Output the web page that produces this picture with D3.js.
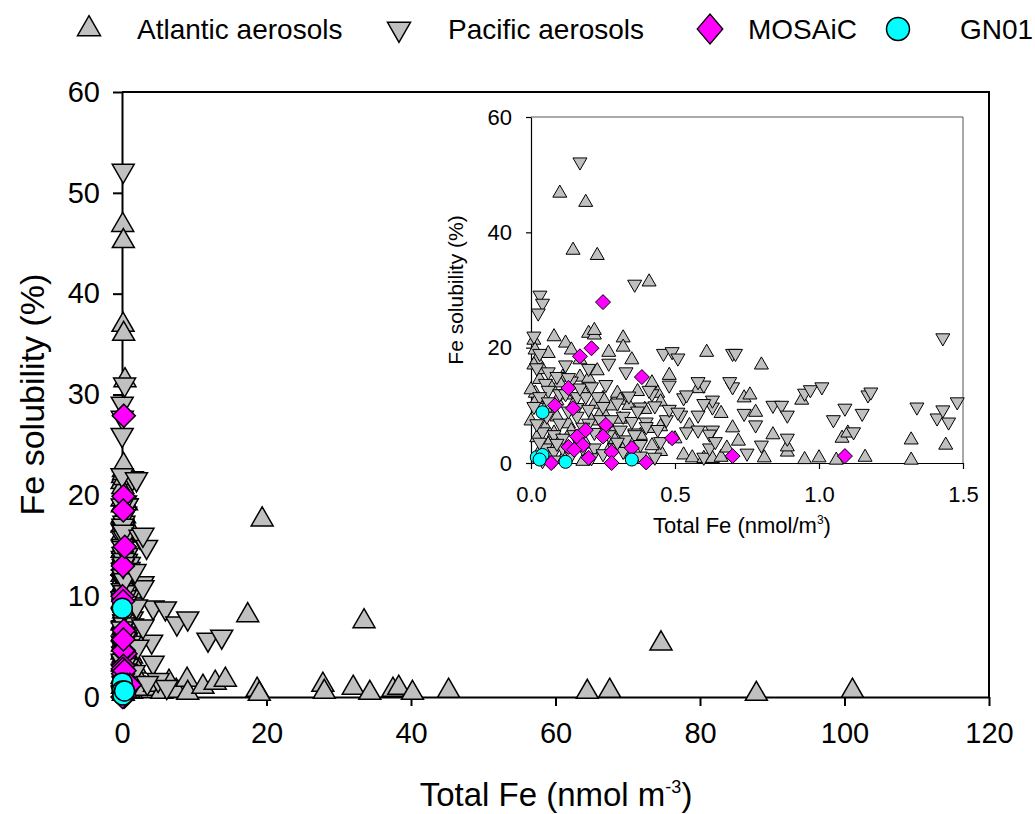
<!DOCTYPE html>
<html>
<head>
  <meta charset="utf-8">
  <script src="https://d3js.org/d3.v7.min.js"></script>
  <style>
    body { margin:0; background:#fff; }
    svg text { font-family: Arial, "Liberation Sans", sans-serif; fill:#000; }
  </style>
</head>
<body>
  <div class="chart"></div>
  <script>
    // [total Fe (nmol m-3), Fe solubility (%)]
    const atlantic = [
      [0.10,46.8],[0.19,45.2],[0.146,36.9],[0.23,36.0],[0.41,31.4],
      [0.01,21.3],[0.08,21.9],[0.12,20.8],[0.14,19.6],[0.20,22.5],[0.22,22.2],[0.32,21.7],[0.32,20.1],
      [0.35,17.9],[0.014,19.6],[0.02,17.9],[0.06,19.0],[0.01,17.0],[0.17,17.9],[0.11,14.9],[0.10,13.9],
      [0.30,12.1],[0.31,10.9],[0.42,13.9],[0.44,12.1],[0.45,10.6],[0.17,14.9],[0.20,14.7],[0.015,12.1],
      [0.02,11.0],[0.53,1.4],[0.56,0.9],[0.60,0.8],[0.63,0.8],[0.35,1.4],[0.17,4.1],[0.19,3.3],[0.28,5.7],
      [0.41,6.0],[0.45,6.3],[0.08,5.2],[0.02,4.4],[0.0,7.3],[0.13,6.8],[0.24,8.5],[0.31,7.6],[0.18,0.3],
      [0.395,9.3],[0.28,9.9],[0.61,19.2],[0.80,17.0],[0.74,11.3],[0.76,11.8],[0.78,8.8],[0.94,10.9],
      [0.84,4.9],[0.89,1.9],[0.81,0.9],[1.0,0.9],[1.06,0.5],[1.08,4.3],[1.10,5.2],[1.32,4.0],[1.44,3.1],
      [1.32,0.5],[0.66,1.0],[0.89,2.8],[0.68,2.6],[0.22,23.0],[0.0,12.7],[0.05,9.5],[0.09,8.0],[0.15,10.4],
      [0.25,11.2],[0.03,2.0],[0.07,1.0],[0.12,1.6],[0.27,2.2],[0.33,3.2],[0.45,2.0],[0.50,4.2],[0.55,6.5],
      [0.48,15.2],[0.58,12.9],[0.66,8.6],[0.70,6.1],[0.72,3.8],[0.95,0.6],[1.16,1.0],
      [0.03,14.5],[0.07,13.2],[0.12,11.8],[0.18,12.6],[0.22,10.2],[0.26,8.0],[0.34,10.0],[0.37,12.4],
      [0.05,6.2],[0.10,3.8],[0.14,5.6],[0.21,7.3],[0.29,4.1],[0.38,4.8],[0.42,3.0],[0.06,3.2],[0.09,10.8],
      [0.23,16.0],[0.27,19.2],[0.04,16.2],
      [1.8,3.0],[2.5,1.5],[3.2,0.8],[4.5,1.2],[5.5,0.5],[6.5,1.5],[7.5,0.6],[9.0,1.7],[9.1,0.4],
      [11.2,1.0],[12.9,1.4],[14.3,1.7],[18.7,0.7],[19.4,17.6],[17.4,8.1],[33.5,7.5],[74.6,5.3],
      [19.0,0.3],[27.8,1.2],[28.0,0.5],[32.0,0.9],[34.3,0.4],[37.5,0.7],[38.3,0.9],[40.2,0.4],
      [45.2,0.6],[64.4,0.5],[67.5,0.6],[87.8,0.3],[101.1,0.6]
    ];
    const pacific = [
      [0.17,52.2],[0.031,29.1],[0.04,27.7],[0.025,26.0],[0.36,31.0],[0.27,17.3],[0.46,19.0],[0.49,19.3],
      [0.51,18.2],[0.70,19.0],[0.48,13.5],[0.53,11.3],[0.60,13.5],[0.63,9.7],[0.70,13.2],[0.54,5.4],
      [0.58,5.7],[0.63,5.7],[0.58,8.3],[0.60,1.0],[0.52,8.3],[0.47,7.5],[0.42,12.0],[0.38,9.7],[0.36,5.2],
      [0.40,7.1],[1.43,21.7],[0.71,19.0],[0.63,10.9],[0.74,8.6],[0.78,6.6],[0.84,10.0],[0.87,10.0],
      [0.89,8.3],[0.95,12.1],[0.97,12.7],[1.01,13.2],[1.05,7.5],[1.09,9.5],[1.15,8.6],[1.17,11.8],
      [1.18,12.3],[1.12,5.4],[1.34,9.7],[1.41,7.8],[1.43,9.2],[1.45,7.1],[1.48,10.6],[0.75,1.7],[0.89,4.3],
      [0.80,3.1],[0.62,5.0],[0.58,14.1],[0.69,14.1],[0.54,11.8],[0.60,10.3],[0.05,13.8],[0.06,12.6],
      [0.03,11.5],[0.10,12.0],[0.12,12.0],[0.16,11.5],[0.19,11.5],[0.23,11.5],[0.25,9.8],[0.16,9.6],
      [0.20,9.3],[0.01,9.8],[0.055,8.1],[0.10,6.9],[0.16,8.1],[0.20,6.9],[0.24,7.5],[0.28,7.5],[0.32,8.1],
      [0.35,7.2],[0.04,5.4],[0.08,4.9],[0.11,4.3],[0.15,4.9],[0.27,4.9],[0.31,5.7],[0.33,4.0],[0.36,4.9],
      [0.18,2.6],[0.22,2.6],[0.29,2.6],[0.32,2.0],[0.05,2.6],[0.08,2.0],[0.11,2.6],[0.04,0.4],[0.08,0.5],
      [0.21,0.9],[0.38,1.2],[0.43,1.0],[0.45,3.7],[0.62,2.6],[0.64,3.7],[0.48,9.3],[0.51,8.8],[0.41,12.6],
      [0.43,9.9],[0.02,16.5],[0.06,15.8],[0.09,15.0],[0.14,14.2],[0.03,19.0],[0.01,22.0],[0.26,13.6],
      [0.33,15.8],[0.40,6.3],[0.22,5.3],
      [0.02,6.8],[0.06,10.6],[0.13,9.0],[0.18,6.2],[0.26,6.0],[0.30,10.4],[0.34,11.6],[0.37,9.0],
      [0.13,14.8],[0.17,13.0],[0.21,13.2],[0.09,3.4],[0.14,1.4],[0.25,1.6],[0.30,3.6],[0.38,3.2],
      [0.44,5.8],[0.03,3.6],[0.12,17.0],[0.20,16.4],
      [2.5,15.9],[3.4,14.9],[2.9,16.1],[2.9,11.3],[2.9,10.9],[4.3,8.9],[6.0,8.8],[7.6,7.3],[9.1,7.8],
      [11.9,5.7],[13.8,6.0],[4.1,5.5],[4.3,3.4],[2.9,7.0],[5.0,1.7],[6.2,1.0],[1.8,12.5],[2.0,9.0],
      [2.2,5.0],[1.7,2.5],[3.5,1.4],[2.0,21.6]
    ];
    const mosaic = [
      [0.25,27.9],[0.21,19.9],[0.17,18.5],[0.13,13.0],[0.083,10.0],[0.146,9.5],[0.385,14.9],[0.49,4.3],
      [0.26,6.6],[0.25,4.6],[0.16,4.6],[0.19,5.7],[0.18,3.1],[0.13,2.8],[0.15,2.3],[0.28,1.9],[0.20,0.9],
      [0.28,0.0],[0.35,2.6],[0.40,0.1],[0.07,0.0],[0.70,1.2],[1.09,1.2]
    ];
    const gn01 = [
      [0.04,8.8],[0.025,0.9],[0.02,1.0],[0.04,1.4],[0.03,0.6],[0.12,0.2],[0.35,0.6]
    ];

    const seriesNames = ['Atlantic aerosols', 'Pacific aerosols', 'MOSAiC', 'GN01'];
    const mainXTicks = [0, 20, 40, 60, 80, 100, 120];
    const mainYTicks = [0, 10, 20, 30, 40, 50, 60];
    const insetXTicks = [0, 0.5, 1.0, 1.5];
    const insetYTicks = [0, 20, 40, 60];

    const width = 1035, height = 814;
    const svg = d3.select('.chart').append('svg')
      .attr('width', width).attr('height', height);

    // marker shapes, w = nominal marker width
    function marker(kind, w) {
      if (kind === 0 || kind === 1) {
        return d3.symbol().type(d3.symbolTriangle).size(Math.sqrt(3) / 4 * w * w)();
      }
      if (kind === 2) {
        const h = w / 2;
        return `M0,${-h}L${h},0L0,${h}L${-h},0Z`;
      }
      return d3.symbol().type(d3.symbolCircle).size(Math.PI * w * w / 4)();
    }
    const fills = ['#c0c0c0', '#c0c0c0', '#ff00ff', '#00ffff'];
    const allSeries = [atlantic, pacific, mosaic, gn01];

    function drawPoints(g, xs, ys, sizes, strokeW, filter) {
      allSeries.forEach((data, k) => {
        g.append('g').selectAll('path')
          .data(data.filter(filter))
          .join('path')
          .attr('d', marker(k, sizes[k]))
          .attr('transform', d => `translate(${xs(d[0])},${ys(d[1])})` + (k === 1 ? ' rotate(180)' : ''))
          .style('fill', fills[k])
          .style('stroke', '#000')
          .style('stroke-width', strokeW);
      });
    }

    // ---------- main plot ----------
    const x = d3.scaleLinear().domain([0, 120]).range([122, 989]);
    const y = d3.scaleLinear().domain([0, 60]).range([697, 92]);

    const main = svg.append('g');
    main.append('path')
      .attr('d', `M${x(0)},${y(60)}H${x(120)}V${y(0)}`)
      .style('fill', 'none').style('stroke', '#000').style('stroke-width', 2);

    const xAxis = main.append('g')
      .attr('transform', `translate(0,${y(0)})`)
      .call(d3.axisBottom(x).tickValues(mainXTicks).tickSize(9).tickSizeOuter(0).tickPadding(16));
    const yAxis = main.append('g')
      .attr('transform', `translate(${x(0)},0)`)
      .call(d3.axisLeft(y).tickValues(mainYTicks).tickSize(9).tickSizeOuter(0).tickPadding(13));
    [xAxis, yAxis].forEach(a => {
      a.selectAll('path, line').style('stroke', '#000').style('stroke-width', 2);
      a.selectAll('text').style('font-size', '29px').style('font-family', 'Arial, "Liberation Sans", sans-serif');
    });

    drawPoints(main, x, y, [22, 22, 23, 20], 1.5, () => true);

    main.append('text')
      .attr('transform', `translate(44,${(y(0) + y(60)) / 2}) rotate(-90)`)
      .attr('text-anchor', 'middle')
      .style('font-size', '34px')
      .text('Fe solubility (%)');
    const xl = main.append('text')
      .attr('x', 556).attr('y', 806)
      .attr('text-anchor', 'middle')
      .style('font-size', '33px');
    xl.append('tspan').text('Total Fe (nmol m');
    xl.append('tspan').attr('dy', -13).style('font-size', '18px').text('-3');
    xl.append('tspan').attr('dy', 13).text(')');

    // ---------- inset ----------
    const xi = d3.scaleLinear().domain([0, 1.5]).range([531, 963]);
    const yi = d3.scaleLinear().domain([0, 60]).range([463, 117]);
    const inset = svg.append('g');
    inset.append('path')
      .attr('d', `M${xi(0)},${yi(60)}H${xi(1.5)}V${yi(0)}`)
      .style('fill', 'none').style('stroke', '#555').style('stroke-width', 1);

    const xiAxis = inset.append('g')
      .attr('transform', `translate(0,${yi(0)})`)
      .call(d3.axisBottom(xi).tickValues(insetXTicks).tickFormat(d3.format('.1f'))
        .tickSize(6).tickSizeOuter(0).tickPadding(17));
    const yiAxis = inset.append('g')
      .attr('transform', `translate(${xi(0)},0)`)
      .call(d3.axisLeft(yi).tickValues(insetYTicks).tickSize(5).tickSizeOuter(0).tickPadding(14));
    [xiAxis, yiAxis].forEach(a => {
      a.selectAll('path, line').style('stroke', '#000').style('stroke-width', 1.2);
      a.selectAll('text').style('font-size', '22px').style('font-family', 'Arial, "Liberation Sans", sans-serif');
    });

    drawPoints(inset, xi, yi, [14, 14, 15, 13], 1, d => d[0] <= 1.5);

    inset.append('text')
      .attr('transform', `translate(463,${(yi(0) + yi(60)) / 2}) rotate(-90)`)
      .attr('text-anchor', 'middle')
      .style('font-size', '21px')
      .text('Fe solubility (%)');
    const xil = inset.append('text')
      .attr('x', 742).attr('y', 533)
      .attr('text-anchor', 'middle')
      .style('font-size', '22px');
    xil.append('tspan').text('Total Fe (nmol/m');
    xil.append('tspan').attr('dy', -9).style('font-size', '12px').text('3');
    xil.append('tspan').attr('dy', 9).text(')');

    // ---------- legend ----------
    const legendSymX = [89, 399, 710, 898];
    const legendTextX = [137, 448, 748, 960];
    const legend = svg.append('g');
    seriesNames.forEach((name, k) => {
      legend.append('path')
        .attr('d', marker(k, k === 2 ? 30 : 23))
        .attr('transform', `translate(${legendSymX[k]},29)` + (k === 1 ? ' rotate(180)' : '') + (k === 2 ? ' scale(0.85,1)' : ''))
        .style('fill', fills[k]).style('stroke', '#000').style('stroke-width', 1.5);
      legend.append('text')
        .attr('x', legendTextX[k]).attr('y', 39)
        .style('font-size', '28px')
        .text(name);
    });
  </script>
</body>
</html>
